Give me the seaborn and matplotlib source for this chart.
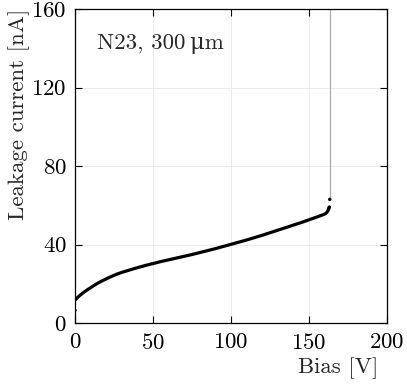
import pandas as pd
import matplotlib
matplotlib.use("Agg")
import matplotlib.pyplot as plt
import seaborn as sns

# IV curve (bias in V, leakage current in nA)
bias = [0, 0.5, 1, 2, 3, 5, 7.5, 10, 12.5, 15, 17.5, 20, 22.5, 25, 27.5, 30,
        35, 40, 45, 50, 55, 60, 65, 70, 75, 80, 85, 90, 95, 100, 105, 110,
        115, 120, 125, 130, 135, 140, 145, 150, 155, 158, 160, 161, 162,
        162.5, 163, 163.3]
current = [6.5, 12.0, 12.5, 13.3, 14.0, 15.3, 16.7, 18.0, 19.3, 20.5, 21.5,
           22.5, 23.4, 24.3, 25.1, 25.8, 27.0, 28.2, 29.3, 30.3, 31.3, 32.2,
           33.1, 34.0, 34.9, 35.9, 36.9, 37.9, 39.0, 40.1, 41.2, 42.3, 43.5,
           44.7, 46.0, 47.3, 48.6, 49.9, 51.2, 52.6, 54.0, 54.9, 55.5, 56.0,
           57.0, 58.0, 59.0, 63.0]
breakdown_voltage = 163.5
label_text = "N23, 300\u2009\u03bcm"

x_ticks = [0, 50, 100, 150, 200]
y_ticks = [0, 40, 80, 120, 160]

df = pd.DataFrame({"bias": bias, "current": current})

sns.set_style("ticks")
plt.rcParams["font.family"] = ["cmr10", "DejaVu Serif"]
plt.rcParams["mathtext.fontset"] = "cm"
plt.rcParams["axes.unicode_minus"] = False
plt.rcParams["axes.formatter.use_mathtext"] = True

fig = plt.figure(figsize=(4.07, 3.85), dpi=100)
ax = fig.add_axes([0.1843, 0.161, 0.7666, 0.8156])

ax.grid(True, color="#e8e8e8", linewidth=0.6)
ax.set_axisbelow(True)

ax.vlines(breakdown_voltage, current[-1], y_ticks[-1], color="#aaaaaa", linewidth=0.9, zorder=2)
sns.lineplot(data=df.iloc[1:-1], x="bias", y="current", color="black",
             linewidth=2.3, ax=ax, zorder=3)
sns.scatterplot(data=df.iloc[[0, -3, -2, -1]], x="bias", y="current", color="black",
                s=6, edgecolor="none", ax=ax, zorder=4)

ax.set_xlim(0, 200)
ax.set_ylim(0, 160)
ax.set_xticks(x_ticks)
ax.set_yticks(y_ticks)
ax.tick_params(direction="in", length=5, width=0.8, top=True, right=True,
               labelsize=16.5, colors="black")
ax.tick_params(axis="x", pad=7)
ax.tick_params(axis="y", pad=6)
for s in ax.spines.values():
    s.set_linewidth(0.9)
    s.set_color("black")

ax.set_xlabel("Bias [V]", fontsize=16.5, loc="right")
ax.xaxis.set_label_coords(0.972, -0.108)
ax.set_ylabel("Leakage current [nA]", fontsize=16.5, loc="top", labelpad=1)

ax.text(0.07, 0.89, label_text, transform=ax.transAxes, fontsize=16.5,
        va="center", ha="left")

fig.savefig("out.png", dpi=100)
